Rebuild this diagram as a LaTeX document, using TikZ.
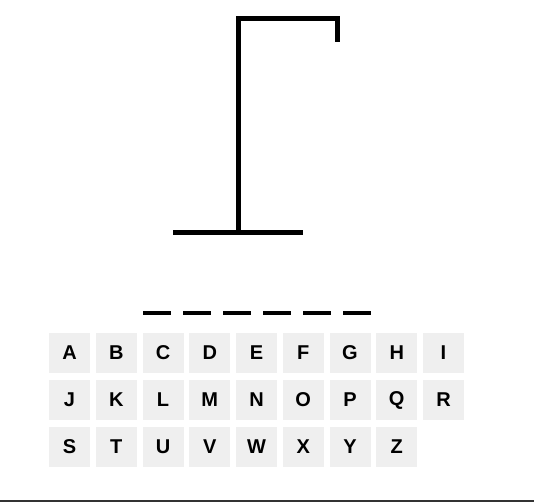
\documentclass[tikz,border=0pt]{standalone}
\usepackage{fontspec}
\setmainfont{Liberation Sans}
\definecolor{tilegray}{HTML}{EFEFEF}
\definecolor{linegray}{HTML}{333333}
\begin{document}
\begin{tikzpicture}[x=1pt,y=-1pt,
  tile/.style={fill=tilegray,draw=none,minimum width=41pt,minimum height=40pt,inner sep=0pt,
    font=\fontsize{20}{20}\selectfont\bfseries,text=black},
  gallows/.style={line width=5pt,line join=miter,line cap=butt,black},
  blank/.style={line width=4.5pt,black}]
\useasboundingbox (0,0) rectangle (534,502);
% gallows
\draw[gallows] (238.5,233) -- (238.5,18.5) -- (337.5,18.5) -- (337.5,42);
\draw[gallows] (173,232.5) -- (303,232.5);
% blanks
\foreach \i in {0,...,5}{
  \draw[blank] ({143+40*\i},313) -- ({171+40*\i},313);
}
% tiles
\foreach \l [count=\n from 0] in {A,B,C,D,E,F,G,H,I,J,K,L,M,N,O,P,Q,R,S,T,U,V,W,X,Y,Z}{
  \pgfmathtruncatemacro{\c}{mod(\n,9)}
  \pgfmathtruncatemacro{\r}{div(\n,9)}
  \node[tile] (key\l) at ({69.5+46.75*\c},{353+47*\r}) {\l};
}
% bottom rule
\draw[linegray,line width=1.5pt] (0,501) -- (534,501);
\end{tikzpicture}
\end{document}
